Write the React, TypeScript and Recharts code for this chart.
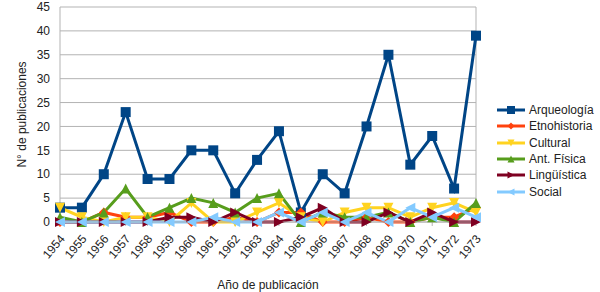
import React from 'react';
import {
  LineChart,
  Line,
  XAxis,
  YAxis,
  CartesianGrid,
  ReferenceLine
} from 'recharts';

const years = [
  '1954', '1955', '1956', '1957', '1958', '1959', '1960', '1961', '1962', '1963',
  '1964', '1965', '1966', '1967', '1968', '1969', '1970', '1971', '1972', '1973'
];
const arqueologia = [3, 3, 10, 23, 9, 9, 15, 15, 6, 13, 19, 2, 10, 6, 20, 35, 12, 18, 7, 39];
const etnohistoria = [0, 0, 2, 1, 1, 2, 0, 0, 1, 0, 2, 2, 0, 0, 1, 0, 0, 1, 1, 3];
const cultural = [3, 1, 0, 1, 1, 0, 4, 0, 0, 2, 4, 1, 0, 2, 3, 3, 1, 3, 4, 2];
const antFisica = [1, 0, 2, 7, 1, 3, 5, 4, 2, 5, 6, 0, 2, 1, 1, 2, 0, 1, 0, 4];
const linguistica = [0, 0, 0, 0, 0, 1, 1, 0, 2, 0, 0, 1, 3, 0, 0, 2, 0, 2, 0, 0];
const social = [0, 0, 0, 0, 0, 0, 0, 1, 0, 0, 2, 0, 2, 0, 2, 0, 3, 1, 3, 1];
const yTicks = [0, 5, 10, 15, 20, 25, 30, 35, 40, 45];

type Shape = 'square' | 'diamond' | 'down' | 'up' | 'right' | 'left';

const series: { key: string; name: string; color: string; shape: Shape; values: number[] }[] = [
  { key: 'arq', name: 'Arqueología', color: '#004586', shape: 'square', values: arqueologia },
  { key: 'etno', name: 'Etnohistoria', color: '#ff420e', shape: 'diamond', values: etnohistoria },
  { key: 'cult', name: 'Cultural', color: '#ffd320', shape: 'down', values: cultural },
  { key: 'fis', name: 'Ant. Física', color: '#579d1c', shape: 'up', values: antFisica },
  { key: 'ling', name: 'Lingüística', color: '#7e0021', shape: 'right', values: linguistica },
  { key: 'soc', name: 'Social', color: '#83caff', shape: 'left', values: social }
];

const data = years.map((year, i) => {
  const row: Record<string, string | number> = { year };
  series.forEach(s => { row[s.key] = s.values[i]; });
  return row;
});

const font = '"Liberation Sans", Arial, sans-serif';

function marker(shape: Shape, cx: number, cy: number, color: string, r: number, key?: number) {
  switch (shape) {
    case 'square':
      return <rect key={key} x={cx - r} y={cy - r} width={r * 2} height={r * 2} fill={color} />;
    case 'diamond':
      return <polygon key={key} points={`${cx},${cy - r} ${cx + r},${cy} ${cx},${cy + r} ${cx - r},${cy}`} fill={color} />;
    case 'down':
      return <polygon key={key} points={`${cx - r},${cy - r} ${cx + r},${cy - r} ${cx},${cy + r}`} fill={color} />;
    case 'up':
      return <polygon key={key} points={`${cx - r},${cy + r} ${cx + r},${cy + r} ${cx},${cy - r}`} fill={color} />;
    case 'right':
      return <polygon key={key} points={`${cx - r},${cy - r} ${cx - r},${cy + r} ${cx + r},${cy}`} fill={color} />;
    default:
      return <polygon key={key} points={`${cx + r},${cy - r} ${cx + r},${cy + r} ${cx - r},${cy}`} fill={color} />;
  }
}

const makeDot = (shape: Shape, color: string) => (props: any) =>
  marker(shape, props.cx, props.cy, color, 5, props.index);

// rotated year labels, ending just under the tick
const YearTick = (props: any) => {
  const { x, y, payload } = props;
  return (
    <g transform={`translate(${x + 3},${y + 9})`}>
      <text transform="rotate(-50)" textAnchor="end" dominantBaseline="middle" fontSize={12} fill="#222" fontFamily={font}>
        {payload.value}
      </text>
    </g>
  );
};

const LegendBox: React.FC = () => (
  <div style={{ position: 'absolute', left: 497, top: 102, fontFamily: font, fontSize: 12, color: '#222' }}>
    {series.map(s => (
      <div key={s.key} style={{ display: 'flex', alignItems: 'center', height: 16.3 }}>
        <svg width={28} height={12} style={{ marginRight: 4 }}>
          <line x1={0} y1={6} x2={28} y2={6} stroke={s.color} strokeWidth={3} />
          {marker(s.shape, 14, 6, s.color, s.shape === 'square' ? 4 : 3.5)}
        </svg>
        <span>{s.name}</span>
      </div>
    ))}
  </div>
);

const App: React.FC = () => {
  return (
    <div style={{ position: 'absolute', left: 0, top: 0, width: 600, height: 292, background: '#fff' }}>
      <LineChart
        width={600}
        height={292}
        data={data}
        margin={{ top: 7, right: 124, left: 0, bottom: 0 }}
      >
        <CartesianGrid stroke="#b3b3b3" vertical={false} />
        <XAxis
          dataKey="year"
          interval={0}
          height={70}
          axisLine={{ stroke: '#b3b3b3' }}
          tickLine={{ stroke: '#b3b3b3' }}
          tickSize={4}
          tick={<YearTick />}
          label={{ value: 'Año de publicación', position: 'insideBottom', offset: 3, fontSize: 12, fill: '#222', fontFamily: font }}
        />
        <YAxis
          domain={[0, 45]}
          ticks={yTicks}
          width={60}
          interval={0}
          axisLine={{ stroke: '#b3b3b3' }}
          tickLine={false}
          tickSize={8}
          tickMargin={2}
          tick={{ fontSize: 12, fill: '#222', fontFamily: font }}
          label={{ value: 'N° de publicaciones', angle: -90, position: 'center', dx: -8, fontSize: 12, fill: '#222', fontFamily: font }}
        />
        <ReferenceLine x="1973" stroke="#b3b3b3" />
        {series.map(s => (
          <Line
            key={s.key}
            type="linear"
            dataKey={s.key}
            name={s.name}
            stroke={s.color}
            strokeWidth={3}
            dot={makeDot(s.shape, s.color)}
            activeDot={false}
            isAnimationActive={false}
          />
        ))}
      </LineChart>
      <LegendBox />
    </div>
  );
};

export default App;
